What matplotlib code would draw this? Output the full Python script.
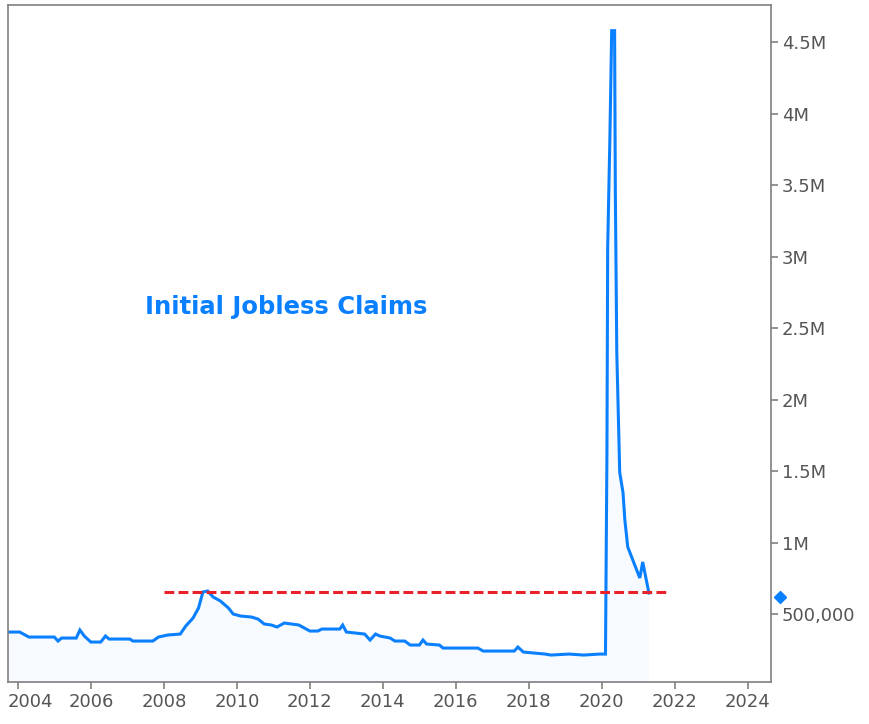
# Initial jobless claims chart

import matplotlib
matplotlib.use("Agg")
import matplotlib.pyplot as plt
from matplotlib.ticker import FixedLocator, FixedFormatter
from matplotlib.transforms import ScaledTranslation


# Data :

years = [2003.73, 2004.05, 2004.3, 2005.0, 2005.1, 2005.2, 2005.6, 2005.7,
         2005.82, 2006.0, 2006.27, 2006.4, 2006.5, 2007.07, 2007.15, 2007.7,
         2007.85, 2008.1, 2008.45, 2008.6, 2008.8, 2008.95, 2009.07, 2009.2,
         2009.35, 2009.55, 2009.77, 2009.9, 2010.1, 2010.4, 2010.58, 2010.75,
         2010.95, 2011.1, 2011.3, 2011.7, 2012.0, 2012.22, 2012.33, 2012.82,
         2012.9, 2013.0, 2013.5, 2013.65, 2013.8, 2013.92, 2014.2, 2014.33,
         2014.6, 2014.75, 2015.0, 2015.1, 2015.2, 2015.55, 2015.65, 2016.6,
         2016.75, 2017.6, 2017.7, 2017.85, 2018.45, 2018.6, 2019.1, 2019.5,
         2019.95, 2020.1, 2020.14, 2020.16, 2020.22, 2020.27, 2020.35, 2020.37,
         2020.41, 2020.49, 2020.58, 2020.63, 2020.71, 2020.88, 2021.04, 2021.12,
         2021.29]

claims = [374e3, 374e3, 339e3, 339e3, 311e3, 332e3, 332e3, 388e3,
          346e3, 304e3, 304e3, 346e3, 325e3, 325e3, 311e3, 311e3,
          339e3, 353e3, 360e3, 416e3, 472e3, 542e3, 654e3, 661e3,
          619e3, 591e3, 542e3, 500e3, 486e3, 479e3, 465e3, 430e3,
          423e3, 409e3, 437e3, 423e3, 381e3, 381e3, 395e3, 395e3,
          423e3, 374e3, 360e3, 318e3, 360e3, 346e3, 332e3, 311e3,
          311e3, 283e3, 283e3, 318e3, 290e3, 283e3, 262e3, 262e3,
          241e3, 241e3, 269e3, 234e3, 220e3, 213e3, 220e3, 213e3,
          220e3, 220e3, 1.63e6, 3.06e6, 3.82e6, 4.58e6, 4.58e6, 3.45e6,
          2.33e6, 1.49e6, 1.35e6, 1.16e6, 969e3, 857e3, 752e3, 864e3,
          647e3]

last_value = 620e3
threshold = 655e3
threshold_start, threshold_end = 2008.0, 2021.8

x_ticks = [2004, 2006, 2008, 2010, 2012, 2014, 2016, 2018, 2020, 2022, 2024]
y_ticks = [500e3, 1e6, 1.5e6, 2e6, 2.5e6, 3e6, 3.5e6, 4e6, 4.5e6]
y_labels = ["500,000", "1M", "1.5M", "2M", "2.5M", "3M", "3.5M", "4M", "4.5M"]


# Styles :

BLUE = "#0a80ff"
RED = "#e8212b"
GREY = "#808080"
TEXT = "#555555"


fig = plt.figure(figsize=(8.7, 7.24), dpi=100)
ax = fig.add_axes([0.0092, 0.058, 0.8768, 0.935])

ax.fill_between(years, claims, 0, color=BLUE, alpha=0.03, linewidth=0)
ax.plot(years, claims, color=BLUE, linewidth=2.2, solid_joinstyle="miter")

ax.hlines(threshold, threshold_start, threshold_end, color=RED,
          linewidth=2.2, linestyles=(0, (3.2, 1.4)))

# last value marker on the right edge
ax.plot([1.012], [last_value], marker="D", color=BLUE, markersize=6,
        transform=ax.get_yaxis_transform(), clip_on=False)

ax.text(0.365, 0.554, "Initial Jobless Claims", transform=ax.transAxes,
        ha="center", va="center", color=BLUE, fontsize=17.5, fontweight="bold")

ax.set_xlim(2003.73, 2024.63)
ax.set_ylim(24.5e3, 4.759e6)

ax.xaxis.set_major_locator(FixedLocator(x_ticks))
ax.set_xticklabels([str(y) for y in x_ticks])
ax.yaxis.set_major_locator(FixedLocator(y_ticks))
ax.yaxis.set_major_formatter(FixedFormatter(y_labels))
ax.yaxis.tick_right()

ax.tick_params(axis="both", colors=GREY, labelcolor=TEXT, labelsize=13,
               length=5, width=1.2, direction="out", pad=3)

# the first year label is pushed right so it is not cut at the edge
first = ax.get_xticklabels()[0]
first.set_transform(first.get_transform() + ScaledTranslation(0.13, 0, fig.dpi_scale_trans))

for s in ax.spines.values():
    s.set_color(GREY)
    s.set_linewidth(1.2)

fig.savefig("out.png", dpi=100)
